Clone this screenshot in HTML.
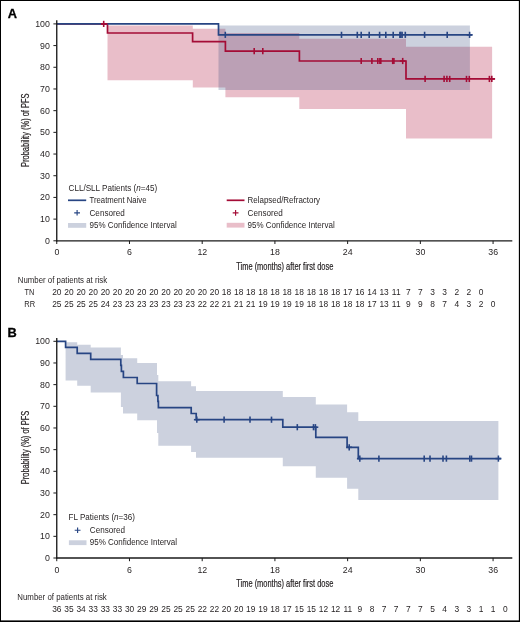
<!DOCTYPE html><html><head><meta charset="utf-8"><style>html,body{margin:0;padding:0;background:#fff}svg{display:block;will-change:transform}text{font-family:"Liberation Sans",sans-serif}</style></head><body>
<svg width="520" height="622" viewBox="0 0 520 622">
<rect x="0" y="0" width="520" height="622" fill="#000"/>
<rect x="1" y="1" width="517.85" height="619.4" fill="#fff"/>
<text x="7.7" y="18.3" font-size="12.8" font-weight="bold" fill="#000" stroke="#000" stroke-width="0.3">A</text>
<path d="M107.50 25.40 L192.80 25.40 L192.80 28.80 L225.40 28.80 L225.40 33.10 L299.30 33.10 L299.30 38.80 L406.00 38.80 L406.00 46.80 L492.10 46.80 L492.10 138.50 L406.00 138.50 L406.00 109.00 L299.30 109.00 L299.30 97.20 L225.40 97.20 L225.40 87.50 L192.80 87.50 L192.80 80.20 L107.50 80.20Z" fill="rgba(176,20,60,0.28)"/>
<path d="M218.50 25.40 L469.90 25.40 L469.90 89.90 L218.50 89.90Z" fill="rgba(50,72,122,0.25)"/>
<path d="M56.75 23.90 L107.50 23.90 L107.50 33.00 L192.60 33.00 L192.60 41.60 L225.40 41.60 L225.40 51.20 L299.40 51.20 L299.40 61.00 L406.00 61.00 L406.00 78.95 L495.10 78.95" stroke="#a40c36" stroke-width="1.7" fill="none"/>
<path d="M56.75 23.90 L218.50 23.90 L218.50 34.85 L472.40 34.85" stroke="#274583" stroke-width="1.7" fill="none"/>
<path d="M225.30 31.75V37.95" stroke="#274583" stroke-width="1.6" fill="none"/>
<path d="M341.50 31.75V37.95" stroke="#274583" stroke-width="1.6" fill="none"/>
<path d="M357.30 31.75V37.95" stroke="#274583" stroke-width="1.6" fill="none"/>
<path d="M361.20 31.75V37.95" stroke="#274583" stroke-width="1.6" fill="none"/>
<path d="M369.20 31.75V37.95" stroke="#274583" stroke-width="1.6" fill="none"/>
<path d="M379.60 31.75V37.95" stroke="#274583" stroke-width="1.6" fill="none"/>
<path d="M385.80 31.75V37.95" stroke="#274583" stroke-width="1.6" fill="none"/>
<path d="M393.20 31.75V37.95" stroke="#274583" stroke-width="1.6" fill="none"/>
<path d="M399.90 31.75V37.95" stroke="#274583" stroke-width="1.6" fill="none"/>
<path d="M400.80 31.75V37.95" stroke="#274583" stroke-width="1.6" fill="none"/>
<path d="M402.10 31.75V37.95" stroke="#274583" stroke-width="1.6" fill="none"/>
<path d="M405.30 31.75V37.95" stroke="#274583" stroke-width="1.6" fill="none"/>
<path d="M424.60 31.75V37.95" stroke="#274583" stroke-width="1.6" fill="none"/>
<path d="M447.20 31.75V37.95" stroke="#274583" stroke-width="1.6" fill="none"/>
<path d="M469.60 31.75V37.95" stroke="#274583" stroke-width="1.6" fill="none"/>
<path d="M466.70 34.85H472.50" stroke="#274583" stroke-width="1.6" fill="none"/>
<line x1="101.0" y1="23.9" x2="107.5" y2="23.9" stroke="#a40c36" stroke-width="1.7"/>
<path d="M103.70 20.80V27.00" stroke="#a40c36" stroke-width="1.6" fill="none"/>
<path d="M100.80 23.90H106.60" stroke="#a40c36" stroke-width="1.6" fill="none"/>
<path d="M254.20 48.10V54.30" stroke="#a40c36" stroke-width="1.6" fill="none"/>
<path d="M262.80 48.10V54.30" stroke="#a40c36" stroke-width="1.6" fill="none"/>
<path d="M361.20 57.90V64.10" stroke="#a40c36" stroke-width="1.6" fill="none"/>
<path d="M371.90 57.90V64.10" stroke="#a40c36" stroke-width="1.6" fill="none"/>
<path d="M377.80 57.90V64.10" stroke="#a40c36" stroke-width="1.6" fill="none"/>
<path d="M379.90 57.90V64.10" stroke="#a40c36" stroke-width="1.6" fill="none"/>
<path d="M380.80 57.90V64.10" stroke="#a40c36" stroke-width="1.6" fill="none"/>
<path d="M392.70 57.90V64.10" stroke="#a40c36" stroke-width="1.6" fill="none"/>
<path d="M393.90 57.90V64.10" stroke="#a40c36" stroke-width="1.6" fill="none"/>
<path d="M402.70 57.90V64.10" stroke="#a40c36" stroke-width="1.6" fill="none"/>
<path d="M399.80 61.00H405.60" stroke="#a40c36" stroke-width="1.6" fill="none"/>
<path d="M425.10 75.85V82.05" stroke="#a40c36" stroke-width="1.6" fill="none"/>
<path d="M444.10 75.85V82.05" stroke="#a40c36" stroke-width="1.6" fill="none"/>
<path d="M446.90 75.85V82.05" stroke="#a40c36" stroke-width="1.6" fill="none"/>
<path d="M449.70 75.85V82.05" stroke="#a40c36" stroke-width="1.6" fill="none"/>
<path d="M466.50 75.85V82.05" stroke="#a40c36" stroke-width="1.6" fill="none"/>
<path d="M469.30 75.85V82.05" stroke="#a40c36" stroke-width="1.6" fill="none"/>
<path d="M489.40 75.85V82.05" stroke="#a40c36" stroke-width="1.6" fill="none"/>
<path d="M491.80 75.85V82.05" stroke="#a40c36" stroke-width="1.6" fill="none"/>
<path d="M488.90 78.95H494.70" stroke="#a40c36" stroke-width="1.6" fill="none"/>
<line x1="53.4" y1="240.80" x2="56.75" y2="240.80" stroke="#1a1a1a" stroke-width="1"/>
<text x="49.9" y="243.75" text-anchor="end" font-size="8.8" fill="#231f20">0</text>
<line x1="53.4" y1="219.11" x2="56.75" y2="219.11" stroke="#1a1a1a" stroke-width="1"/>
<text x="49.9" y="222.06" text-anchor="end" font-size="8.8" fill="#231f20">10</text>
<line x1="53.4" y1="197.42" x2="56.75" y2="197.42" stroke="#1a1a1a" stroke-width="1"/>
<text x="49.9" y="200.37" text-anchor="end" font-size="8.8" fill="#231f20">20</text>
<line x1="53.4" y1="175.73" x2="56.75" y2="175.73" stroke="#1a1a1a" stroke-width="1"/>
<text x="49.9" y="178.68" text-anchor="end" font-size="8.8" fill="#231f20">30</text>
<line x1="53.4" y1="154.04" x2="56.75" y2="154.04" stroke="#1a1a1a" stroke-width="1"/>
<text x="49.9" y="156.99" text-anchor="end" font-size="8.8" fill="#231f20">40</text>
<line x1="53.4" y1="132.35" x2="56.75" y2="132.35" stroke="#1a1a1a" stroke-width="1"/>
<text x="49.9" y="135.30" text-anchor="end" font-size="8.8" fill="#231f20">50</text>
<line x1="53.4" y1="110.66" x2="56.75" y2="110.66" stroke="#1a1a1a" stroke-width="1"/>
<text x="49.9" y="113.61" text-anchor="end" font-size="8.8" fill="#231f20">60</text>
<line x1="53.4" y1="88.97" x2="56.75" y2="88.97" stroke="#1a1a1a" stroke-width="1"/>
<text x="49.9" y="91.92" text-anchor="end" font-size="8.8" fill="#231f20">70</text>
<line x1="53.4" y1="67.28" x2="56.75" y2="67.28" stroke="#1a1a1a" stroke-width="1"/>
<text x="49.9" y="70.23" text-anchor="end" font-size="8.8" fill="#231f20">80</text>
<line x1="53.4" y1="45.59" x2="56.75" y2="45.59" stroke="#1a1a1a" stroke-width="1"/>
<text x="49.9" y="48.54" text-anchor="end" font-size="8.8" fill="#231f20">90</text>
<line x1="53.4" y1="23.90" x2="56.75" y2="23.90" stroke="#1a1a1a" stroke-width="1"/>
<text x="49.9" y="26.85" text-anchor="end" font-size="8.8" fill="#231f20">100</text>
<line x1="56.75" y1="240.80" x2="56.75" y2="244.00" stroke="#1a1a1a" stroke-width="1"/>
<text x="56.85" y="255.00" text-anchor="middle" font-size="8.8" fill="#231f20">0</text>
<line x1="129.47" y1="240.80" x2="129.47" y2="244.00" stroke="#1a1a1a" stroke-width="1"/>
<text x="129.57" y="255.00" text-anchor="middle" font-size="8.8" fill="#231f20">6</text>
<line x1="202.19" y1="240.80" x2="202.19" y2="244.00" stroke="#1a1a1a" stroke-width="1"/>
<text x="202.29" y="255.00" text-anchor="middle" font-size="8.8" fill="#231f20">12</text>
<line x1="274.91" y1="240.80" x2="274.91" y2="244.00" stroke="#1a1a1a" stroke-width="1"/>
<text x="275.01" y="255.00" text-anchor="middle" font-size="8.8" fill="#231f20">18</text>
<line x1="347.63" y1="240.80" x2="347.63" y2="244.00" stroke="#1a1a1a" stroke-width="1"/>
<text x="347.73" y="255.00" text-anchor="middle" font-size="8.8" fill="#231f20">24</text>
<line x1="420.35" y1="240.80" x2="420.35" y2="244.00" stroke="#1a1a1a" stroke-width="1"/>
<text x="420.45" y="255.00" text-anchor="middle" font-size="8.8" fill="#231f20">30</text>
<line x1="493.07" y1="240.80" x2="493.07" y2="244.00" stroke="#1a1a1a" stroke-width="1"/>
<text x="493.17" y="255.00" text-anchor="middle" font-size="8.8" fill="#231f20">36</text>
<line x1="56.75" y1="20.30" x2="56.75" y2="241.40" stroke="#1a1a1a" stroke-width="1.35"/>
<line x1="56.15" y1="240.80" x2="512.3" y2="240.80" stroke="#1a1a1a" stroke-width="1.35"/>
<text x="236.3" y="269.60" font-size="10" fill="#231f20" stroke="#231f20" stroke-width="0.2" textLength="97" lengthAdjust="spacingAndGlyphs">Time (months) after first dose</text>
<text transform="translate(28.6 130.20) rotate(-90)" x="0" y="0" text-anchor="middle" font-size="10" fill="#231f20" stroke="#231f20" stroke-width="0.2" textLength="73.5" lengthAdjust="spacingAndGlyphs">Probability (%) of PFS</text>
<text x="68.6" y="190.9" font-size="8.6" fill="#231f20" textLength="88.6" lengthAdjust="spacingAndGlyphs">CLL/SLL Patients (<tspan font-style="italic">n</tspan>=45)</text>
<line x1="68" y1="200.3" x2="86.2" y2="200.3" stroke="#274583" stroke-width="1.7"/>
<text x="89.5" y="203.2" font-size="8.6" fill="#231f20" textLength="57" lengthAdjust="spacingAndGlyphs">Treatment Naive</text>
<path d="M77.10 210.00V215.60M74.20 212.80H80.00" stroke="#274583" stroke-width="1.15" fill="none"/>
<text x="89.5" y="215.6" font-size="8.6" fill="#231f20" textLength="35.2" lengthAdjust="spacingAndGlyphs">Censored</text>
<rect x="68" y="223.0" width="18.2" height="4.8" fill="rgba(50,72,122,0.25)"/>
<text x="89.5" y="227.8" font-size="8.6" fill="#231f20" textLength="87.2" lengthAdjust="spacingAndGlyphs">95% Confidence Interval</text>
<line x1="226.7" y1="200.3" x2="244.5" y2="200.3" stroke="#a40c36" stroke-width="1.7"/>
<text x="247.5" y="203.2" font-size="8.6" fill="#231f20" textLength="72.6" lengthAdjust="spacingAndGlyphs">Relapsed/Refractory</text>
<path d="M235.60 210.10V215.70M232.70 212.90H238.50" stroke="#a40c36" stroke-width="1.15" fill="none"/>
<text x="247.6" y="215.6" font-size="8.6" fill="#231f20" textLength="35.2" lengthAdjust="spacingAndGlyphs">Censored</text>
<rect x="226.7" y="222.8" width="17.8" height="4.8" fill="rgba(176,20,60,0.28)"/>
<text x="247.5" y="227.8" font-size="8.6" fill="#231f20" textLength="87.2" lengthAdjust="spacingAndGlyphs">95% Confidence Interval</text>
<text x="17.8" y="282.8" font-size="8.6" fill="#231f20" textLength="89.3" lengthAdjust="spacingAndGlyphs">Number of patients at risk</text>
<text x="24.4" y="294.6" font-size="8.6" fill="#231f20" textLength="9.9" lengthAdjust="spacingAndGlyphs">TN</text>
<text x="24.3" y="306.6" font-size="8.6" fill="#231f20" textLength="10.9" lengthAdjust="spacingAndGlyphs">RR</text>
<text x="56.85" y="294.6" text-anchor="middle" font-size="8.4" fill="#231f20">20</text>
<text x="68.97" y="294.6" text-anchor="middle" font-size="8.4" fill="#231f20">20</text>
<text x="81.09" y="294.6" text-anchor="middle" font-size="8.4" fill="#231f20">20</text>
<text x="93.21" y="294.6" text-anchor="middle" font-size="8.4" fill="#231f20">20</text>
<text x="105.33" y="294.6" text-anchor="middle" font-size="8.4" fill="#231f20">20</text>
<text x="117.45" y="294.6" text-anchor="middle" font-size="8.4" fill="#231f20">20</text>
<text x="129.57" y="294.6" text-anchor="middle" font-size="8.4" fill="#231f20">20</text>
<text x="141.69" y="294.6" text-anchor="middle" font-size="8.4" fill="#231f20">20</text>
<text x="153.81" y="294.6" text-anchor="middle" font-size="8.4" fill="#231f20">20</text>
<text x="165.93" y="294.6" text-anchor="middle" font-size="8.4" fill="#231f20">20</text>
<text x="178.05" y="294.6" text-anchor="middle" font-size="8.4" fill="#231f20">20</text>
<text x="190.17" y="294.6" text-anchor="middle" font-size="8.4" fill="#231f20">20</text>
<text x="202.29" y="294.6" text-anchor="middle" font-size="8.4" fill="#231f20">20</text>
<text x="214.41" y="294.6" text-anchor="middle" font-size="8.4" fill="#231f20">20</text>
<text x="226.53" y="294.6" text-anchor="middle" font-size="8.4" fill="#231f20">18</text>
<text x="238.65" y="294.6" text-anchor="middle" font-size="8.4" fill="#231f20">18</text>
<text x="250.77" y="294.6" text-anchor="middle" font-size="8.4" fill="#231f20">18</text>
<text x="262.89" y="294.6" text-anchor="middle" font-size="8.4" fill="#231f20">18</text>
<text x="275.01" y="294.6" text-anchor="middle" font-size="8.4" fill="#231f20">18</text>
<text x="287.13" y="294.6" text-anchor="middle" font-size="8.4" fill="#231f20">18</text>
<text x="299.25" y="294.6" text-anchor="middle" font-size="8.4" fill="#231f20">18</text>
<text x="311.37" y="294.6" text-anchor="middle" font-size="8.4" fill="#231f20">18</text>
<text x="323.49" y="294.6" text-anchor="middle" font-size="8.4" fill="#231f20">18</text>
<text x="335.61" y="294.6" text-anchor="middle" font-size="8.4" fill="#231f20">18</text>
<text x="347.73" y="294.6" text-anchor="middle" font-size="8.4" fill="#231f20">17</text>
<text x="359.85" y="294.6" text-anchor="middle" font-size="8.4" fill="#231f20">16</text>
<text x="371.97" y="294.6" text-anchor="middle" font-size="8.4" fill="#231f20">14</text>
<text x="384.09" y="294.6" text-anchor="middle" font-size="8.4" fill="#231f20">13</text>
<text x="396.21" y="294.6" text-anchor="middle" font-size="8.4" fill="#231f20">11</text>
<text x="408.33" y="294.6" text-anchor="middle" font-size="8.4" fill="#231f20">7</text>
<text x="420.45" y="294.6" text-anchor="middle" font-size="8.4" fill="#231f20">7</text>
<text x="432.57" y="294.6" text-anchor="middle" font-size="8.4" fill="#231f20">3</text>
<text x="444.69" y="294.6" text-anchor="middle" font-size="8.4" fill="#231f20">3</text>
<text x="456.81" y="294.6" text-anchor="middle" font-size="8.4" fill="#231f20">2</text>
<text x="468.93" y="294.6" text-anchor="middle" font-size="8.4" fill="#231f20">2</text>
<text x="481.05" y="294.6" text-anchor="middle" font-size="8.4" fill="#231f20">0</text>
<text x="56.85" y="306.6" text-anchor="middle" font-size="8.4" fill="#231f20">25</text>
<text x="68.97" y="306.6" text-anchor="middle" font-size="8.4" fill="#231f20">25</text>
<text x="81.09" y="306.6" text-anchor="middle" font-size="8.4" fill="#231f20">25</text>
<text x="93.21" y="306.6" text-anchor="middle" font-size="8.4" fill="#231f20">25</text>
<text x="105.33" y="306.6" text-anchor="middle" font-size="8.4" fill="#231f20">24</text>
<text x="117.45" y="306.6" text-anchor="middle" font-size="8.4" fill="#231f20">23</text>
<text x="129.57" y="306.6" text-anchor="middle" font-size="8.4" fill="#231f20">23</text>
<text x="141.69" y="306.6" text-anchor="middle" font-size="8.4" fill="#231f20">23</text>
<text x="153.81" y="306.6" text-anchor="middle" font-size="8.4" fill="#231f20">23</text>
<text x="165.93" y="306.6" text-anchor="middle" font-size="8.4" fill="#231f20">23</text>
<text x="178.05" y="306.6" text-anchor="middle" font-size="8.4" fill="#231f20">23</text>
<text x="190.17" y="306.6" text-anchor="middle" font-size="8.4" fill="#231f20">23</text>
<text x="202.29" y="306.6" text-anchor="middle" font-size="8.4" fill="#231f20">22</text>
<text x="214.41" y="306.6" text-anchor="middle" font-size="8.4" fill="#231f20">22</text>
<text x="226.53" y="306.6" text-anchor="middle" font-size="8.4" fill="#231f20">21</text>
<text x="238.65" y="306.6" text-anchor="middle" font-size="8.4" fill="#231f20">21</text>
<text x="250.77" y="306.6" text-anchor="middle" font-size="8.4" fill="#231f20">21</text>
<text x="262.89" y="306.6" text-anchor="middle" font-size="8.4" fill="#231f20">19</text>
<text x="275.01" y="306.6" text-anchor="middle" font-size="8.4" fill="#231f20">19</text>
<text x="287.13" y="306.6" text-anchor="middle" font-size="8.4" fill="#231f20">19</text>
<text x="299.25" y="306.6" text-anchor="middle" font-size="8.4" fill="#231f20">19</text>
<text x="311.37" y="306.6" text-anchor="middle" font-size="8.4" fill="#231f20">18</text>
<text x="323.49" y="306.6" text-anchor="middle" font-size="8.4" fill="#231f20">18</text>
<text x="335.61" y="306.6" text-anchor="middle" font-size="8.4" fill="#231f20">18</text>
<text x="347.73" y="306.6" text-anchor="middle" font-size="8.4" fill="#231f20">18</text>
<text x="359.85" y="306.6" text-anchor="middle" font-size="8.4" fill="#231f20">18</text>
<text x="371.97" y="306.6" text-anchor="middle" font-size="8.4" fill="#231f20">17</text>
<text x="384.09" y="306.6" text-anchor="middle" font-size="8.4" fill="#231f20">13</text>
<text x="396.21" y="306.6" text-anchor="middle" font-size="8.4" fill="#231f20">11</text>
<text x="408.33" y="306.6" text-anchor="middle" font-size="8.4" fill="#231f20">9</text>
<text x="420.45" y="306.6" text-anchor="middle" font-size="8.4" fill="#231f20">9</text>
<text x="432.57" y="306.6" text-anchor="middle" font-size="8.4" fill="#231f20">8</text>
<text x="444.69" y="306.6" text-anchor="middle" font-size="8.4" fill="#231f20">7</text>
<text x="456.81" y="306.6" text-anchor="middle" font-size="8.4" fill="#231f20">4</text>
<text x="468.93" y="306.6" text-anchor="middle" font-size="8.4" fill="#231f20">3</text>
<text x="481.05" y="306.6" text-anchor="middle" font-size="8.4" fill="#231f20">2</text>
<text x="493.17" y="306.6" text-anchor="middle" font-size="8.4" fill="#231f20">0</text>
<text x="7.4" y="336.8" font-size="12.8" font-weight="bold" fill="#000" stroke="#000" stroke-width="0.3">B</text>
<path d="M65.60 342.20 L77.20 342.20 L77.20 344.70 L90.70 344.70 L90.70 347.60 L120.90 347.60 L120.90 355.00 L123.00 355.00 L123.00 358.30 L137.20 358.30 L137.20 362.90 L157.00 362.90 L157.00 375.00 L158.30 375.00 L158.30 381.30 L191.10 381.30 L191.10 386.20 L196.00 386.20 L196.00 390.90 L282.80 390.90 L282.80 397.00 L315.80 397.00 L315.80 404.40 L347.10 404.40 L347.10 412.20 L358.30 412.20 L358.30 421.00 L498.40 421.00 L498.40 500.10 L358.30 500.10 L358.30 488.80 L347.10 488.80 L347.10 477.80 L315.80 477.80 L315.80 466.20 L282.80 466.20 L282.80 457.80 L196.00 457.80 L196.00 452.00 L191.10 452.00 L191.10 445.80 L158.30 445.80 L158.30 433.00 L157.00 433.00 L157.00 420.20 L137.20 420.20 L137.20 413.50 L123.00 413.50 L123.00 407.00 L120.90 407.00 L120.90 392.40 L90.70 392.40 L90.70 385.70 L77.20 385.70 L77.20 380.40 L65.60 380.40Z" fill="rgba(50,72,122,0.25)"/>
<path d="M56.75 341.40 L65.60 341.40 L65.60 347.40 L77.20 347.40 L77.20 353.40 L90.70 353.40 L90.70 359.40 L120.80 359.40 L120.80 365.40 L121.40 365.40 L121.40 371.40 L123.40 371.40 L123.40 377.50 L137.20 377.50 L137.20 383.50 L156.60 383.50 L156.60 395.50 L157.90 395.50 L157.90 401.40 L158.40 401.40 L158.40 407.60 L191.20 407.60 L191.20 413.50 L196.20 413.50 L196.20 419.70 L282.80 419.70 L282.80 427.20 L315.80 427.20 L315.80 437.30 L347.10 437.30 L347.10 447.30 L358.30 447.30 L358.30 458.60 L501.20 458.60" stroke="#274583" stroke-width="1.7" fill="none"/>
<path d="M196.80 416.60V422.80" stroke="#274583" stroke-width="1.6" fill="none"/>
<path d="M193.90 419.70H199.70" stroke="#274583" stroke-width="1.6" fill="none"/>
<path d="M224.10 416.60V422.80" stroke="#274583" stroke-width="1.6" fill="none"/>
<path d="M250.00 416.60V422.80" stroke="#274583" stroke-width="1.6" fill="none"/>
<path d="M271.50 416.60V422.80" stroke="#274583" stroke-width="1.6" fill="none"/>
<path d="M297.30 424.10V430.30" stroke="#274583" stroke-width="1.6" fill="none"/>
<path d="M313.50 424.10V430.30" stroke="#274583" stroke-width="1.6" fill="none"/>
<path d="M315.40 424.10V430.30" stroke="#274583" stroke-width="1.6" fill="none"/>
<path d="M312.50 427.20H318.30" stroke="#274583" stroke-width="1.6" fill="none"/>
<path d="M349.20 444.20V450.40" stroke="#274583" stroke-width="1.6" fill="none"/>
<path d="M346.30 447.30H352.10" stroke="#274583" stroke-width="1.6" fill="none"/>
<path d="M359.80 455.50V461.70" stroke="#274583" stroke-width="1.6" fill="none"/>
<path d="M356.90 458.60H362.70" stroke="#274583" stroke-width="1.6" fill="none"/>
<path d="M378.90 455.50V461.70" stroke="#274583" stroke-width="1.6" fill="none"/>
<path d="M424.20 455.50V461.70" stroke="#274583" stroke-width="1.6" fill="none"/>
<path d="M430.00 455.50V461.70" stroke="#274583" stroke-width="1.6" fill="none"/>
<path d="M443.00 455.50V461.70" stroke="#274583" stroke-width="1.6" fill="none"/>
<path d="M446.40 455.50V461.70" stroke="#274583" stroke-width="1.6" fill="none"/>
<path d="M469.80 455.50V461.70" stroke="#274583" stroke-width="1.6" fill="none"/>
<path d="M471.50 455.50V461.70" stroke="#274583" stroke-width="1.6" fill="none"/>
<path d="M498.40 455.50V461.70" stroke="#274583" stroke-width="1.6" fill="none"/>
<path d="M495.50 458.60H501.30" stroke="#274583" stroke-width="1.6" fill="none"/>
<line x1="53.4" y1="558.00" x2="56.75" y2="558.00" stroke="#1a1a1a" stroke-width="1"/>
<text x="49.9" y="560.95" text-anchor="end" font-size="8.8" fill="#231f20">0</text>
<line x1="53.4" y1="536.33" x2="56.75" y2="536.33" stroke="#1a1a1a" stroke-width="1"/>
<text x="49.9" y="539.28" text-anchor="end" font-size="8.8" fill="#231f20">10</text>
<line x1="53.4" y1="514.66" x2="56.75" y2="514.66" stroke="#1a1a1a" stroke-width="1"/>
<text x="49.9" y="517.61" text-anchor="end" font-size="8.8" fill="#231f20">20</text>
<line x1="53.4" y1="492.99" x2="56.75" y2="492.99" stroke="#1a1a1a" stroke-width="1"/>
<text x="49.9" y="495.94" text-anchor="end" font-size="8.8" fill="#231f20">30</text>
<line x1="53.4" y1="471.32" x2="56.75" y2="471.32" stroke="#1a1a1a" stroke-width="1"/>
<text x="49.9" y="474.27" text-anchor="end" font-size="8.8" fill="#231f20">40</text>
<line x1="53.4" y1="449.65" x2="56.75" y2="449.65" stroke="#1a1a1a" stroke-width="1"/>
<text x="49.9" y="452.60" text-anchor="end" font-size="8.8" fill="#231f20">50</text>
<line x1="53.4" y1="427.98" x2="56.75" y2="427.98" stroke="#1a1a1a" stroke-width="1"/>
<text x="49.9" y="430.93" text-anchor="end" font-size="8.8" fill="#231f20">60</text>
<line x1="53.4" y1="406.31" x2="56.75" y2="406.31" stroke="#1a1a1a" stroke-width="1"/>
<text x="49.9" y="409.26" text-anchor="end" font-size="8.8" fill="#231f20">70</text>
<line x1="53.4" y1="384.64" x2="56.75" y2="384.64" stroke="#1a1a1a" stroke-width="1"/>
<text x="49.9" y="387.59" text-anchor="end" font-size="8.8" fill="#231f20">80</text>
<line x1="53.4" y1="362.97" x2="56.75" y2="362.97" stroke="#1a1a1a" stroke-width="1"/>
<text x="49.9" y="365.92" text-anchor="end" font-size="8.8" fill="#231f20">90</text>
<line x1="53.4" y1="341.30" x2="56.75" y2="341.30" stroke="#1a1a1a" stroke-width="1"/>
<text x="49.9" y="344.25" text-anchor="end" font-size="8.8" fill="#231f20">100</text>
<line x1="56.75" y1="558.00" x2="56.75" y2="561.20" stroke="#1a1a1a" stroke-width="1"/>
<text x="56.85" y="572.90" text-anchor="middle" font-size="8.8" fill="#231f20">0</text>
<line x1="129.47" y1="558.00" x2="129.47" y2="561.20" stroke="#1a1a1a" stroke-width="1"/>
<text x="129.57" y="572.90" text-anchor="middle" font-size="8.8" fill="#231f20">6</text>
<line x1="202.19" y1="558.00" x2="202.19" y2="561.20" stroke="#1a1a1a" stroke-width="1"/>
<text x="202.29" y="572.90" text-anchor="middle" font-size="8.8" fill="#231f20">12</text>
<line x1="274.91" y1="558.00" x2="274.91" y2="561.20" stroke="#1a1a1a" stroke-width="1"/>
<text x="275.01" y="572.90" text-anchor="middle" font-size="8.8" fill="#231f20">18</text>
<line x1="347.63" y1="558.00" x2="347.63" y2="561.20" stroke="#1a1a1a" stroke-width="1"/>
<text x="347.73" y="572.90" text-anchor="middle" font-size="8.8" fill="#231f20">24</text>
<line x1="420.35" y1="558.00" x2="420.35" y2="561.20" stroke="#1a1a1a" stroke-width="1"/>
<text x="420.45" y="572.90" text-anchor="middle" font-size="8.8" fill="#231f20">30</text>
<line x1="493.07" y1="558.00" x2="493.07" y2="561.20" stroke="#1a1a1a" stroke-width="1"/>
<text x="493.17" y="572.90" text-anchor="middle" font-size="8.8" fill="#231f20">36</text>
<line x1="56.75" y1="338.10" x2="56.75" y2="558.60" stroke="#1a1a1a" stroke-width="1.35"/>
<line x1="56.15" y1="558.00" x2="512.3" y2="558.00" stroke="#1a1a1a" stroke-width="1.35"/>
<text x="236.3" y="587.10" font-size="10" fill="#231f20" stroke="#231f20" stroke-width="0.2" textLength="97" lengthAdjust="spacingAndGlyphs">Time (months) after first dose</text>
<text transform="translate(28.6 447.50) rotate(-90)" x="0" y="0" text-anchor="middle" font-size="10" fill="#231f20" stroke="#231f20" stroke-width="0.2" textLength="73.5" lengthAdjust="spacingAndGlyphs">Probability (%) of PFS</text>
<text x="68.6" y="520.3" font-size="8.6" fill="#231f20" textLength="66.4" lengthAdjust="spacingAndGlyphs">FL Patients (<tspan font-style="italic">n</tspan>=36)</text>
<path d="M77.60 527.40V533.00M74.70 530.20H80.50" stroke="#274583" stroke-width="1.15" fill="none"/>
<text x="89.8" y="533.0" font-size="8.6" fill="#231f20" textLength="35.2" lengthAdjust="spacingAndGlyphs">Censored</text>
<rect x="68.9" y="540.3" width="17.6" height="4.8" fill="rgba(50,72,122,0.25)"/>
<text x="89.8" y="545.3" font-size="8.6" fill="#231f20" textLength="87.2" lengthAdjust="spacingAndGlyphs">95% Confidence Interval</text>
<text x="17.3" y="600.0" font-size="8.6" fill="#231f20" textLength="89.5" lengthAdjust="spacingAndGlyphs">Number of patients at risk</text>
<text x="56.85" y="612.4" text-anchor="middle" font-size="8.4" fill="#231f20">36</text>
<text x="68.97" y="612.4" text-anchor="middle" font-size="8.4" fill="#231f20">35</text>
<text x="81.09" y="612.4" text-anchor="middle" font-size="8.4" fill="#231f20">34</text>
<text x="93.21" y="612.4" text-anchor="middle" font-size="8.4" fill="#231f20">33</text>
<text x="105.33" y="612.4" text-anchor="middle" font-size="8.4" fill="#231f20">33</text>
<text x="117.45" y="612.4" text-anchor="middle" font-size="8.4" fill="#231f20">33</text>
<text x="129.57" y="612.4" text-anchor="middle" font-size="8.4" fill="#231f20">30</text>
<text x="141.69" y="612.4" text-anchor="middle" font-size="8.4" fill="#231f20">29</text>
<text x="153.81" y="612.4" text-anchor="middle" font-size="8.4" fill="#231f20">29</text>
<text x="165.93" y="612.4" text-anchor="middle" font-size="8.4" fill="#231f20">25</text>
<text x="178.05" y="612.4" text-anchor="middle" font-size="8.4" fill="#231f20">25</text>
<text x="190.17" y="612.4" text-anchor="middle" font-size="8.4" fill="#231f20">25</text>
<text x="202.29" y="612.4" text-anchor="middle" font-size="8.4" fill="#231f20">22</text>
<text x="214.41" y="612.4" text-anchor="middle" font-size="8.4" fill="#231f20">22</text>
<text x="226.53" y="612.4" text-anchor="middle" font-size="8.4" fill="#231f20">20</text>
<text x="238.65" y="612.4" text-anchor="middle" font-size="8.4" fill="#231f20">20</text>
<text x="250.77" y="612.4" text-anchor="middle" font-size="8.4" fill="#231f20">19</text>
<text x="262.89" y="612.4" text-anchor="middle" font-size="8.4" fill="#231f20">19</text>
<text x="275.01" y="612.4" text-anchor="middle" font-size="8.4" fill="#231f20">18</text>
<text x="287.13" y="612.4" text-anchor="middle" font-size="8.4" fill="#231f20">17</text>
<text x="299.25" y="612.4" text-anchor="middle" font-size="8.4" fill="#231f20">15</text>
<text x="311.37" y="612.4" text-anchor="middle" font-size="8.4" fill="#231f20">15</text>
<text x="323.49" y="612.4" text-anchor="middle" font-size="8.4" fill="#231f20">12</text>
<text x="335.61" y="612.4" text-anchor="middle" font-size="8.4" fill="#231f20">12</text>
<text x="347.73" y="612.4" text-anchor="middle" font-size="8.4" fill="#231f20">11</text>
<text x="359.85" y="612.4" text-anchor="middle" font-size="8.4" fill="#231f20">9</text>
<text x="371.97" y="612.4" text-anchor="middle" font-size="8.4" fill="#231f20">8</text>
<text x="384.09" y="612.4" text-anchor="middle" font-size="8.4" fill="#231f20">7</text>
<text x="396.21" y="612.4" text-anchor="middle" font-size="8.4" fill="#231f20">7</text>
<text x="408.33" y="612.4" text-anchor="middle" font-size="8.4" fill="#231f20">7</text>
<text x="420.45" y="612.4" text-anchor="middle" font-size="8.4" fill="#231f20">7</text>
<text x="432.57" y="612.4" text-anchor="middle" font-size="8.4" fill="#231f20">5</text>
<text x="444.69" y="612.4" text-anchor="middle" font-size="8.4" fill="#231f20">4</text>
<text x="456.81" y="612.4" text-anchor="middle" font-size="8.4" fill="#231f20">3</text>
<text x="468.93" y="612.4" text-anchor="middle" font-size="8.4" fill="#231f20">3</text>
<text x="481.05" y="612.4" text-anchor="middle" font-size="8.4" fill="#231f20">1</text>
<text x="493.17" y="612.4" text-anchor="middle" font-size="8.4" fill="#231f20">1</text>
<text x="505.29" y="612.4" text-anchor="middle" font-size="8.4" fill="#231f20">0</text>
</svg></body></html>
